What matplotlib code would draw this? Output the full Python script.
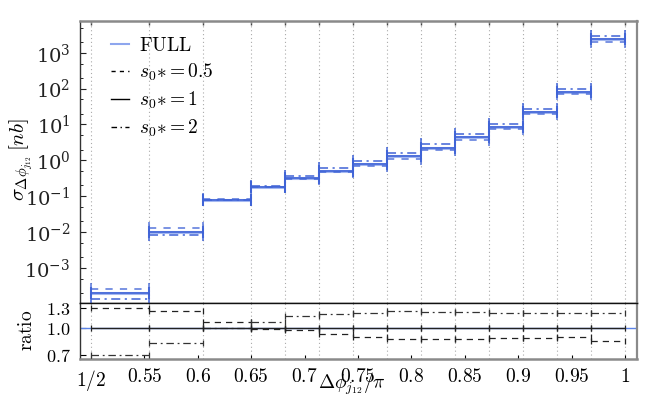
import numpy as np
import matplotlib
matplotlib.use("Agg")
import matplotlib.pyplot as plt
from matplotlib.ticker import FixedLocator, FixedFormatter, LogLocator, NullFormatter
from matplotlib.lines import Line2D

plt.rcParams['mathtext.fontset'] = 'cm'
plt.rcParams['font.family'] = 'serif'
plt.rcParams['font.serif'] = ['DejaVu Serif']

# bin edges in units of Delta phi / pi
edges = [0.5, 0.5543, 0.6051, 0.6498, 0.6817, 0.7135, 0.7454, 0.7772,
         0.8090, 0.8408, 0.8727, 0.9045, 0.9363, 0.9682, 1.0]

# cross sections [nb]
sigma_full = [1.95e-4, 1.02e-2, 0.080, 0.182, 0.315, 0.515, 0.773, 1.29,
              2.27, 4.4, 8.5, 22.4, 79.6, 2460]
sigma_s1 = [1.95e-4, 1.02e-2, 0.080, 0.182, 0.315, 0.515, 0.773, 1.29,
            2.27, 4.4, 8.5, 22.4, 79.6, 2460]
sigma_s05 = [2.54e-4, 1.27e-2, 0.0862, 0.180, 0.307, 0.472, 0.684, 1.117,
             1.95, 3.79, 7.39, 19.6, 70.1, 2057]
sigma_s2 = [1.37e-4, 8.30e-3, 0.0792, 0.196, 0.367, 0.616, 0.940, 1.605,
            2.80, 5.38, 10.29, 27.0, 96.0, 2967]

xticks = [0.5, 0.55, 0.6, 0.65, 0.7, 0.75, 0.8, 0.85, 0.9, 0.95, 1.0]
xticklabels = ['1/2', '0.55', '0.6', '0.65', '0.7', '0.75', '0.8', '0.85', '0.9', '0.95', '1']
ratio_ticks = [0.7, 1.0, 1.3]
ratio_ticklabels = ['0.7', '1.0', '1.3']

edges_a = np.array(edges)
xc = 0.5 * (edges_a[:-1] + edges_a[1:])
xw = 0.5 * (edges_a[1:] - edges_a[:-1])

blue = '#3f63d6'
lblue = '#8ea6ee'

fig = plt.figure(figsize=(6.64, 3.99), dpi=100)
ax = fig.add_axes([0.1205, 0.2398, 0.8388, 0.7076])
axr = fig.add_axes([0.1205, 0.0995, 0.8388, 0.1403], sharex=ax)

FS = 14

# main panel
ax.errorbar(xc, sigma_full, xerr=xw, fmt='none', ecolor=lblue, elinewidth=2.2,
            capsize=4, capthick=1.5, alpha=0.8, zorder=3)
e1 = ax.errorbar(xc, sigma_s05, xerr=xw, fmt='none', ecolor=blue, elinewidth=1.3,
                 capsize=4, capthick=1.3, alpha=0.75, zorder=4)
e1[2][0].set_linestyle((0, (4, 4)))
ax.errorbar(xc, sigma_s1, xerr=xw, fmt='none', ecolor=blue, elinewidth=1.3,
            capsize=4, capthick=1.3, alpha=0.9, zorder=5)
e3 = ax.errorbar(xc, sigma_s2, xerr=xw, fmt='none', ecolor=blue, elinewidth=1.3,
                 capsize=4, capthick=1.3, alpha=0.85, zorder=4)
e3[2][0].set_linestyle((0, (5, 2.5, 1.2, 2.5)))

ax.set_yscale('log')
ax.set_ylim(1.03e-4, 7.7e3)
ax.set_xlim(0.4897, 1.0112)

handles = [Line2D([], [], color=lblue, lw=1.5),
           Line2D([], [], color='black', lw=1.0, ls=(0, (3, 3))),
           Line2D([], [], color='black', lw=1.0),
           Line2D([], [], color='black', lw=1.0, ls=(0, (4, 2.5, 1, 2.5)))]
labels = [r'$\mathrm{FULL}$', r'$s_0{*} = 0.5$', r'$s_0{*} = 1$', r'$s_0{*} = 2$']
ax.legend(handles, labels, loc='upper left', bbox_to_anchor=(0.035, 0.985),
          frameon=False, fontsize=FS, handlelength=0.9, handletextpad=0.55,
          labelspacing=0.35, borderaxespad=0.2)

# ratio panel
r05 = np.array(sigma_s05) / np.array(sigma_s1)
r1 = np.array(sigma_s1) / np.array(sigma_s1)
r2 = np.array(sigma_s2) / np.array(sigma_s1)
rfull = np.array(sigma_full) / np.array(sigma_s1)

axr.axhline(rfull[0], color='#5b83e8', lw=1.0, zorder=2)
er1 = axr.errorbar(xc, r05, xerr=xw, fmt='none', ecolor='#222222', elinewidth=0.9,
                   capsize=2, capthick=0.9, zorder=4)
er1[2][0].set_linestyle((0, (5, 4)))
axr.errorbar(xc, r1, xerr=xw, fmt='none', ecolor='#222222', elinewidth=1.0,
             capsize=2, capthick=0.9, zorder=5)
er3 = axr.errorbar(xc, r2, xerr=xw, fmt='none', ecolor='#333333', elinewidth=0.9,
                   capsize=2, capthick=0.9, zorder=4)
er3[2][0].set_linestyle((0, (6, 3, 1.5, 3)))

axr.set_yscale('log')
axr.set_ylim(0.66, 1.377)
axr.yaxis.set_major_locator(FixedLocator(ratio_ticks))
axr.yaxis.set_major_formatter(FixedFormatter([r'$%s$' % t for t in ratio_ticklabels]))
axr.yaxis.set_minor_locator(FixedLocator([]))
axr.yaxis.set_minor_formatter(NullFormatter())

axr.set_xticks(xticks)
axr.set_xticklabels([r'$%s$' % t for t in xticklabels])

for a in (ax, axr):
    for e in edges:
        a.axvline(e, color='#aaaaaa', lw=0.8, ls=(0, (1, 2.5)), zorder=1)

ax.tick_params(axis='x', which='both', bottom=False, top=False, labelbottom=False)
ax.tick_params(axis='y', which='major', direction='in', length=4, width=0.8,
               labelsize=FS, pad=7, colors='#222222')
ax.tick_params(axis='y', which='minor', direction='in', length=2, width=0.6)
ax.yaxis.set_major_locator(LogLocator(base=10, numticks=20))
ax.yaxis.set_minor_locator(LogLocator(base=10, subs=(2, 5), numticks=20))
ax.yaxis.set_minor_formatter(NullFormatter())
axtop = ax.secondary_xaxis('top')
axtop.set_xticks(edges)
axtop.tick_params(direction='in', length=3, width=1.0, labeltop=False, colors='#444444')
axtop.spines['top'].set_visible(False)

axr.tick_params(axis='x', which='major', direction='in', length=3, width=0.8,
                labelsize=FS, pad=6, top=False)
axr.tick_params(axis='y', which='major', direction='in', length=4, width=0.8,
                labelsize=13, pad=7)

for a in (ax, axr):
    a.spines['left'].set_color('#333333')
    a.spines['left'].set_linewidth(1.0)
    a.spines['right'].set_color('#8a8a8a')
    a.spines['right'].set_linewidth(1.6)
ax.spines['top'].set_color('#8a8a8a')
ax.spines['top'].set_linewidth(1.8)
ax.spines['bottom'].set_color('#111111')
ax.spines['bottom'].set_linewidth(1.0)
axr.spines['top'].set_color('#111111')
axr.spines['top'].set_linewidth(1.0)
axr.spines['bottom'].set_color('#8a8a8a')
axr.spines['bottom'].set_linewidth(1.8)

fig.text(0.032, 0.60, r'$\sigma_{\Delta\phi_{j_{12}}}\,[nb]$', rotation=90,
         ha='center', va='center', fontsize=FS + 1)
fig.text(0.040, 0.173, r'$\mathrm{ratio}$', rotation=90, ha='center', va='center',
         fontsize=FS)
fig.text(0.53, 0.037, r'$\Delta\phi_{j_{12}}/\pi$', ha='center', va='center', fontsize=FS)

fig.savefig('out.png', dpi=100)
